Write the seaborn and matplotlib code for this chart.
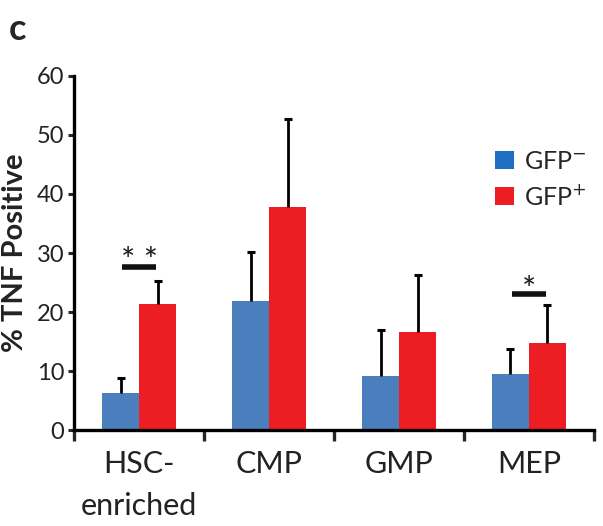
import numpy as np
import pandas as pd
import seaborn as sns
import matplotlib.pyplot as plt
from matplotlib.patches import Patch

# Values
categories = ['HSC-\nenriched', 'CMP', 'GMP', 'MEP']
groups = ['GFP$^{-}$', 'GFP$^{+}$']
gfp_neg = [6.3, 21.8, 9.1, 9.6]
gfp_pos = [21.4, 37.8, 16.7, 14.8]
err_neg = [2.6, 8.4, 7.8, 4.1]
err_pos = [3.8, 14.8, 9.5, 6.4]
# significance marks: (category index, bar height, label)
sig_marks = [(0, 27.7, '* *'), (3, 23.0, '*')]

df = pd.DataFrame({
    'cell': categories * 2,
    'group': [groups[0]] * 4 + [groups[1]] * 4,
    'pct': gfp_neg + gfp_pos,
    'err': err_neg + err_pos,
})

sns.set_style('white')
plt.rcParams['font.family'] = ['Lato', 'DejaVu Sans']

blue = '#4A7EBD'
red = '#EC1E24'

fig, ax = plt.subplots(figsize=(6.03, 5.26), dpi=100)
fig.subplots_adjust(left=0.123, right=0.985, bottom=0.182, top=0.856)

sns.barplot(data=df, x='cell', y='pct', hue='group', order=categories,
            hue_order=groups, palette=[blue, red], width=0.57,
            errorbar=None, saturation=1, ax=ax, legend=False, zorder=2,
            linewidth=0)

# one-sided error bars at the centre of each bar (upper cap only)
for patch, (_, row) in zip(ax.patches, df.iterrows()):
    xc = patch.get_x() + patch.get_width() / 2
    eb = ax.errorbar(xc, row['pct'], yerr=[[0], [row['err']]], fmt='none',
                     ecolor='black', elinewidth=2, capsize=3, capthick=2.2,
                     zorder=3)
    for cap in eb[1]:
        if cap.get_ydata()[0] <= row['pct']:
            cap.set_visible(False)

for idx, yv, lab in sig_marks:
    ax.plot([idx - 0.13, idx + 0.13], [yv, yv], color='#111111', lw=4,
            solid_capstyle='butt', zorder=3)
    off = 3.4 if len(lab) > 1 else 3.1
    ax.text(idx, yv + off, lab, ha='center', va='top', fontsize=24,
            color='#1a1a1a')

ax.set_ylim(0, 60)
ax.set_xlim(-0.5, 3.5)
ax.set_yticks(range(0, 61, 10))
ax.set_xlabel('')
ax.set_ylabel('% TNF Positive', fontsize=21, fontweight='bold', labelpad=6,
              color='#222222')

sns.despine(ax=ax)
for s in ['left', 'bottom']:
    ax.spines[s].set_linewidth(2.4)
    ax.spines[s].set_color('black')

ax.tick_params(axis='y', which='major', direction='out', length=4, width=2.2,
               labelsize=17, pad=3, left=True, labelcolor='#222222')
ax.tick_params(axis='x', which='major', length=0, labelsize=22, pad=14,
               labelcolor='#222222')
for lbl in ax.get_xticklabels():
    lbl.set_linespacing(1.6)
ax.set_xticks([-0.5, 0.5, 1.5, 2.5, 3.5], minor=True)
ax.tick_params(axis='x', which='minor', direction='out', length=8, width=2.4,
               bottom=True)

# legend in the upper right
handles = [Patch(facecolor='#1F6FC2', edgecolor='none'),
           Patch(facecolor=red, edgecolor='none')]
ax.legend(handles, groups, loc='upper left', bbox_to_anchor=(0.79, 0.82),
          frameon=False, fontsize=18, handlelength=0.75, handleheight=0.75,
          handletextpad=0.4, labelspacing=0.45, borderaxespad=0)

fig.text(0.014, 0.975, 'c', fontsize=26, fontweight='bold', va='top')

fig.savefig('out.png', dpi=100)
